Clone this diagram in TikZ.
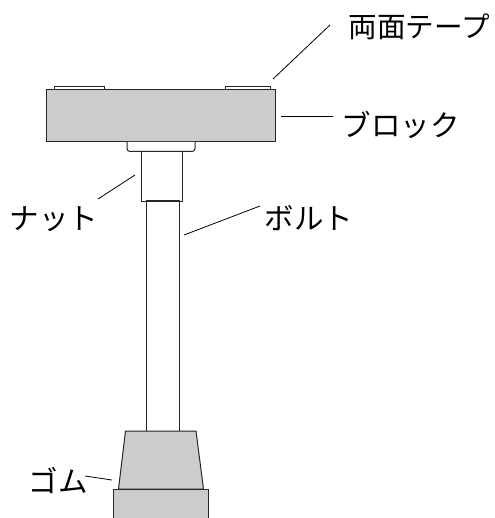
\documentclass[tikz,border=0pt]{standalone}
\usepackage{fontspec}
\setmainfont{Noto Sans CJK JP}
\usetikzlibrary{positioning}

\begin{document}
\begin{tikzpicture}[%
	x=1pt,y=-1pt,line width=1pt,
	part/.style={draw=black!85,inner sep=0pt,outer sep=0pt},
	rubber/.style={part,fill=black!20},
	leader/.style={draw=black,line width=0.8pt},
	label/.style={inner sep=0pt,font=\fontsize{29.5}{30}\selectfont}]

	\useasboundingbox (0,0) rectangle (494,518);

	\node[part,minimum width=50pt,minimum height=3pt]	(TL)	at (79,88.5)	{};
	\node[part,minimum width=45pt,minimum height=3pt]	(TR)	at (248,88.5)	{};
	\node[rubber,minimum width=229pt,minimum height=52pt]	(B)	at (161.2,116)	{};
	\draw[part,fill=white,rounded corners=3pt] (127,142) -- (127,151.5) -- (195,151.5) -- (195,142);
	\node[part,minimum width=41pt,minimum height=49.5pt]	(N)	at (162.2,176.3)	{};
	\node[part,minimum width=33pt,minimum height=230pt]	(S)	at (162.6,316)	{};
	\draw[rubber] (125.5,431) -- (196,431) -- (203.5,489) -- (118.5,489) -- cycle;
	\draw[rubber] (113.5,518.5) -- (113.5,489) -- (208,489) -- (208,518.5);

	\node[label,anchor=west,font=\fontsize{28.6}{30}\selectfont]	(LT)	at (348,27)	{両面テープ};
	\node[label,anchor=west]	(LB)	at (341,125)	{ブロック};
	\node[label,anchor=west]	(LN)	at (9,219)		{ナット};
	\node[label,anchor=west]	(LS)	at (264,218)	{ボルト};
	\node[label,anchor=west]	(LG)	at (28,480)		{ゴム};

	\coordinate (a1) at (273,79);	\coordinate (a2) at (330,25);
	\coordinate (b1) at (281,116);	\coordinate (b2) at (333,116);
	\coordinate (c1) at (135,175);	\coordinate (c2) at (98,199);
	\coordinate (d1) at (184,235);	\coordinate (d2) at (260,206);
	\coordinate (e1) at (112,480);	\coordinate (e2) at (85,476);

	\draw[leader] (a1) -- (a2);
	\draw[leader] (b1) -- (b2);
	\draw[leader] (c1) -- (c2);
	\draw[leader] (d1) -- (d2);
	\draw[leader] (e1) -- (e2);

\end{tikzpicture}
\end{document}
